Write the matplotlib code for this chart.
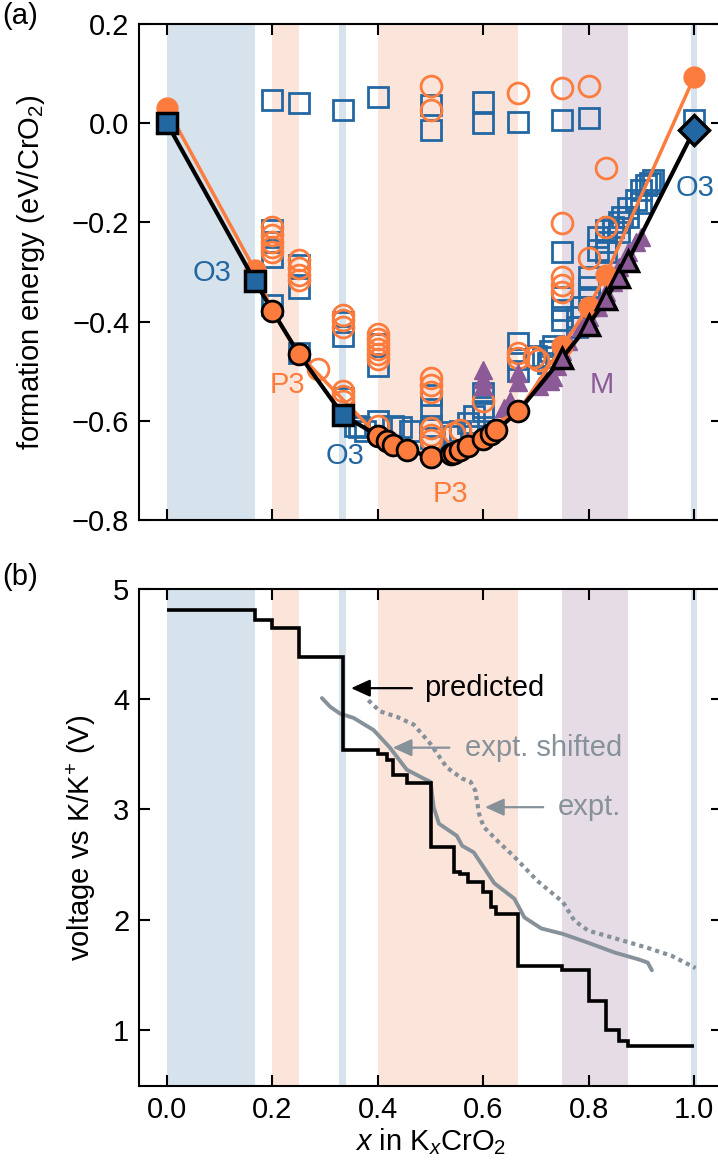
import numpy as np
import matplotlib
matplotlib.use("Agg")
import matplotlib.pyplot as plt

plt.rcParams['font.family'] = ['Liberation Sans', 'DejaVu Sans']
plt.rcParams['mathtext.fontset'] = 'custom'
plt.rcParams['mathtext.rm'] = 'Liberation Sans'
plt.rcParams['mathtext.it'] = 'Liberation Sans:italic'
plt.rcParams['font.size'] = 21

blue = "#2367a2"
orange = "#fc7c3d"
purple = "#8b5a97"
gray = "#86919a"

# phase regions (x ranges)
bands = [(0.0, 1/6, "#d6e2ec"), (0.2, 0.25, "#fbe4da"), (0.327, 0.339, "#d6e2ec"),
         (0.4, 2/3, "#fbe4da"), (0.75, 0.875, "#e6dce6"), (0.994, 1.006, "#d6e2ec")]

# ---- panel (a) data ----
o3_x = [0.2, 0.25, 1/3, 0.4, 0.5, 0.5, 0.6, 0.6, 2/3, 0.75, 0.8,
        0.2, 0.2, 0.2, 0.2, 0.25, 0.25, 0.25, 1/3, 1/3, 1/3, 0.4, 0.4, 0.4,
        0.357, 0.364, 0.375, 0.429, 0.444, 0.462, 0.5, 0.5, 0.5, 0.5, 0.538, 0.545, 0.556, 0.571, 0.583, 0.6,
        0.6, 0.6, 2/3, 2/3, 2/3, 0.7, 0.714, 0.722, 0.727, 0.733,
        0.75, 0.75, 0.75, 0.75, 0.778, 0.778, 0.786, 0.8, 0.8, 0.8,
        0.818, 0.818, 0.833, 0.833, 0.833, 0.846, 0.857, 0.857, 0.864, 0.875, 0.875,
        0.889, 0.9, 0.9, 0.909, 0.917, 0.923, 1.0]
o3_y = [0.046, 0.040, 0.026, 0.052, 0.036, -0.014, 0.042, 0.0, 0.002, 0.006, 0.010,
        -0.215, -0.24, -0.27, -0.366, -0.286, -0.332, -0.463, -0.40, -0.43, -0.555, -0.445, -0.49, -0.60,
        -0.61, -0.612, -0.62, -0.61, -0.612, -0.62, -0.547, -0.577, -0.61, -0.635, -0.622, -0.63, -0.62, -0.605, -0.59, -0.58,
        -0.543, -0.573, -0.443, -0.475, -0.50, -0.47, -0.471, -0.483, -0.46, -0.45,
        -0.26, -0.35, -0.376, -0.396, -0.39, -0.41, -0.37, -0.31, -0.33, -0.355,
        -0.23, -0.255, -0.215, -0.24, -0.26, -0.21, -0.20, -0.22, -0.19, -0.17, -0.19,
        -0.155, -0.135, -0.16, -0.125, -0.12, -0.115, 0.006]

p3_x = [0.5, 0.5, 2/3, 0.75, 0.8,
        0.2, 0.2, 0.2, 0.2, 0.2, 0.25, 0.25, 0.25, 0.25, 0.286,
        1/3, 1/3, 1/3, 1/3, 1/3, 1/3,
        0.4, 0.4, 0.4, 0.4, 0.4, 0.4, 0.4,
        0.5, 0.5, 0.5, 0.5, 0.5, 0.5, 0.545, 0.556, 0.6,
        2/3, 2/3, 0.696, 0.703, 0.75, 0.75, 0.75, 0.75, 0.8, 0.833, 0.833]
p3_y = [0.076, 0.026, 0.06, 0.072, 0.076,
        -0.209, -0.225, -0.239, -0.249, -0.26, -0.276, -0.292, -0.306, -0.316, -0.495,
        -0.386, -0.396, -0.41, -0.54, -0.55, -0.56,
        -0.425, -0.435, -0.445, -0.455, -0.465, -0.475, -0.61,
        -0.513, -0.527, -0.541, -0.614, -0.628, -0.638, -0.625, -0.618, -0.561,
        -0.463, -0.473, -0.471, -0.477, -0.201, -0.31, -0.326, -0.34, -0.272, -0.091, -0.209]

m_x = [0.6, 0.6, 0.6, 2/3, 2/3, 0.64, 0.65, 0.706, 0.714, 0.727, 0.733, 0.74,
       0.75, 0.76, 0.786, 0.8, 0.8, 0.818, 0.833, 0.846, 0.857, 0.875, 0.889, 0.9]
m_y = [-0.497, -0.515, -0.53, -0.503, -0.521, -0.575, -0.56, -0.53, -0.517, -0.52, -0.511, -0.49,
       -0.46, -0.44, -0.41, -0.39, -0.37, -0.37, -0.34, -0.32, -0.29, -0.26, -0.24, -0.229]

# P3 hull (orange line)
p3h_x = [0.0, 1/6, 0.2, 0.25, 0.4, 0.5, 2/3, 0.75, 0.8, 0.833, 1.0]
p3h_y = [0.03, -0.296, -0.378, -0.465, -0.630, -0.673, -0.581, -0.45, -0.37, -0.305, 0.093]

# overall hull (black line)
hull_x = [0.0, 1/6, 0.2, 0.25, 1/3, 0.4, 0.417, 0.429, 0.455, 0.5, 0.538, 0.545, 0.556, 0.571,
          0.6, 0.615, 0.625, 2/3, 0.75, 0.8, 0.833, 0.857, 0.875, 1.0]
hull_y = [0.0, -0.318, -0.378, -0.465, -0.588, -0.630, -0.640, -0.648, -0.658, -0.673, -0.667, -0.664,
          -0.659, -0.651, -0.636, -0.626, -0.619, -0.581, -0.473, -0.406, -0.355, -0.31, -0.277, -0.014]
hull_sq = [0, 1, 4]
hull_circ = list(range(2, 4)) + list(range(5, 18))
hull_tri = [18, 19, 20, 21, 22]
hull_dia = [23]

# ---- panel (b) data ----
step_x = [0.0, 1/6, 0.2, 0.25, 1/3, 0.4, 0.417, 0.429, 0.455, 0.5, 0.545, 0.556, 0.571,
          0.6, 0.615, 0.625, 2/3, 0.75, 0.8, 0.833, 0.857, 0.875, 1.0]
step_v = [4.81, 4.72, 4.65, 4.38, 3.535, 3.505, 3.445, 3.31, 3.235, 2.66, 2.43, 2.415,
          2.34, 2.25, 2.11, 2.05, 1.58, 1.54, 1.26, 1.0, 0.90, 0.855]

shift_x = [0.294, 0.310, 0.328, 0.354, 0.392, 0.423, 0.455, 0.487, 0.500, 0.506, 0.516, 0.550,
           0.560, 0.582, 0.621, 0.659, 0.678, 0.710, 0.751, 0.799, 0.850, 0.894, 0.912, 0.920]
shift_v = [4.01, 3.93, 3.87, 3.83, 3.72, 3.56, 3.36, 3.28, 3.25, 3.02, 2.87, 2.76,
           2.67, 2.61, 2.33, 2.19, 2.02, 1.92, 1.87, 1.79, 1.70, 1.64, 1.61, 1.54]

expt_x = [0.382, 0.404, 0.436, 0.468, 0.499, 0.531, 0.560, 0.576, 0.585, 0.592, 0.601, 0.630,
          0.659, 0.703, 0.751, 0.773, 0.799, 0.850, 0.914, 0.958, 1.003]
expt_v = [3.99, 3.89, 3.84, 3.77, 3.60, 3.38, 3.28, 3.25, 3.17, 2.96, 2.84, 2.70,
          2.57, 2.35, 2.16, 1.99, 1.90, 1.83, 1.74, 1.67, 1.56]

fig = plt.figure(figsize=(7.18, 11.61), dpi=100)
ax1 = fig.add_axes([0.1936, 0.5521, 0.812, 0.4272])
ax2 = fig.add_axes([0.1936, 0.0646, 0.812, 0.4281])

for ax in (ax1, ax2):
    for a, b, c in bands:
        ax.axvspan(a, b, color=c, lw=0, zorder=0)
    ax.set_xlim(-0.053, 1.053)
    ax.set_xticks([0.0, 0.2, 0.4, 0.6, 0.8, 1.0])
    ax.tick_params(direction='in', length=8, width=1.5, top=True, right=True, pad=7, labelsize=21)
    for s in ax.spines.values():
        s.set_linewidth(1.5)

# panel (a)
hx = np.array(hull_x)
hy = np.array(hull_y)
ax1.plot(o3_x, o3_y, 's', ms=14, mfc='none', mec=blue, mew=2, zorder=2)
ax1.plot(p3_x, p3_y, 'o', ms=15, mfc='none', mec=orange, mew=2, zorder=2.5)
ax1.plot(m_x, m_y, '^', ms=13, mfc=purple, mec=purple, mew=1, zorder=3)
ax1.plot(p3h_x, p3h_y, '-o', color=orange, lw=2.5, ms=15, mec=orange, zorder=4)
ax1.plot(hx, hy, '-', color='k', lw=3, zorder=5)
ax1.plot(hx[hull_sq], hy[hull_sq], 's', ms=15, mfc=blue, mec='k', mew=2.5, zorder=6)
ax1.plot(hx[hull_circ], hy[hull_circ], 'o', ms=15, mfc=orange, mec='k', mew=2, zorder=6)
ax1.plot(hx[hull_tri], hy[hull_tri], '^', ms=15, mfc=purple, mec='k', mew=2.5, zorder=6)
ax1.plot(hx[hull_dia], hy[hull_dia], 'D', ms=15, mfc=blue, mec='k', mew=2.5, zorder=6)

labels = [(0.086, -0.302, "O3", blue), (0.228, -0.527, "P3", orange), (0.338, -0.67, "O3", blue),
          (0.538, -0.748, "P3", orange), (0.824, -0.527, "M", purple), (1.002, -0.131, "O3", blue)]
for lx, ly, s, c in labels:
    ax1.text(lx, ly, s, color=c, ha='center', va='center', fontsize=21, zorder=10)

ax1.set_ylim(-0.8, 0.2)
ax1.set_yticks([-0.8, -0.6, -0.4, -0.2, 0.0, 0.2])
ax1.set_yticklabels(["\u22120.8", "\u22120.6", "\u22120.4", "\u22120.2", "0.0", "0.2"])
ax1.tick_params(labelbottom=False)
ax1.set_ylabel("formation energy (eV/CrO$_2$)", fontsize=21)
ax1.yaxis.set_label_coords(-0.158, 0.5)

# panel (b)
ax2.plot(shift_x, shift_v, '-', color=gray, lw=2.8, zorder=3, solid_capstyle='round')
ax2.plot(expt_x, expt_v, color=gray, lw=3, ls=(0, (1, 1)), zorder=3)
ax2.stairs(step_v, step_x, baseline=None, color='k', lw=2.6, zorder=4)

head = "-|>,head_length=0.55,head_width=0.25"
ax2.annotate("", xy=(0.344, 4.1), xytext=(0.47, 4.1),
             arrowprops=dict(arrowstyle=head, color='k', lw=1.6))
ax2.text(0.487, 4.1, "predicted", color='k', va='center', ha='left', fontsize=21)
ax2.annotate("", xy=(0.423, 3.56), xytext=(0.541, 3.56),
             arrowprops=dict(arrowstyle=head, color=gray, lw=1.6))
ax2.text(0.565, 3.56, "expt. shifted", color=gray, va='center', ha='left', fontsize=21)
ax2.annotate("", xy=(0.598, 3.02), xytext=(0.719, 3.02),
             arrowprops=dict(arrowstyle=head, color=gray, lw=1.6))
ax2.text(0.741, 3.02, "expt.", color=gray, va='center', ha='left', fontsize=21)

ax2.set_ylim(0.49, 5.0)
ax2.set_yticks([1, 2, 3, 4, 5])
ax2.set_xticklabels(["0.0", "0.2", "0.4", "0.6", "0.8", "1.0"])
ax2.set_xlabel("$x$ in K$_x$CrO$_2$", fontsize=21, labelpad=2)
ax2.set_ylabel("voltage vs K/K$^{+}$ (V)", fontsize=21)
ax2.yaxis.set_label_coords(-0.07, 0.5)

fig.text(0.003, 0.986, "(a)", fontsize=21, va='center', ha='left')
fig.text(0.003, 0.503, "(b)", fontsize=21, va='center', ha='left')

fig.savefig("out.png", dpi=100)
